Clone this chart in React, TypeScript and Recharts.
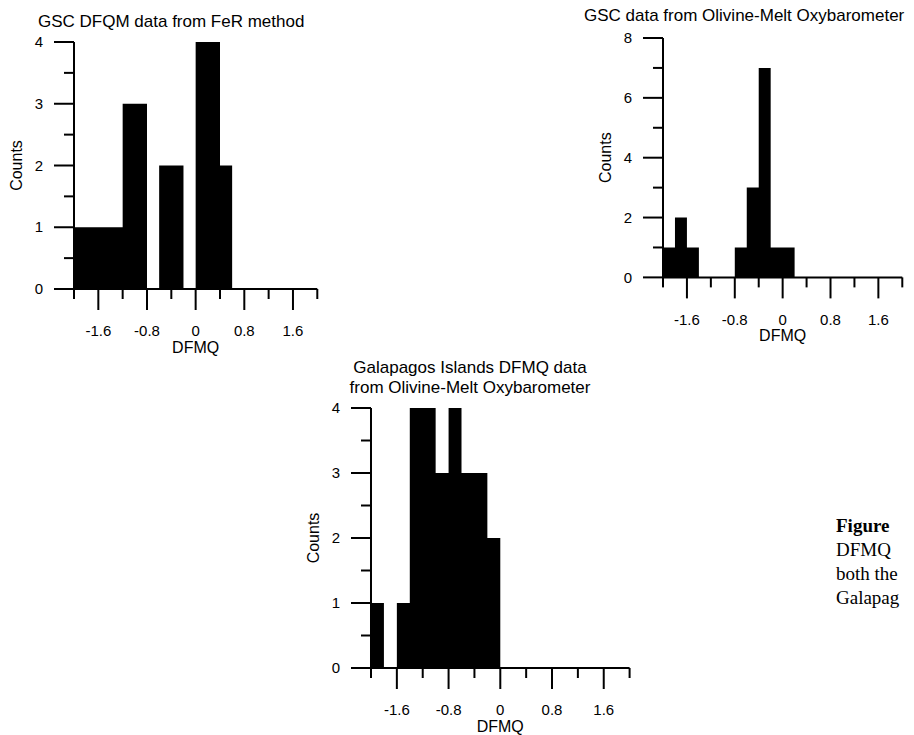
import { AreaChart, Area, XAxis, YAxis, Label } from "recharts";

// bin edges in DFMQ (bin width 0.2), shared by all three histograms
const binEdges = [
  -2.0, -1.8, -1.6, -1.4, -1.2, -1.0, -0.8, -0.6, -0.4, -0.2,
  0.0, 0.2, 0.4, 0.6, 0.8, 1.0, 1.2, 1.4, 1.6, 1.8, 2.0,
];

// counts per bin
const ferCounts = [1, 1, 1, 1, 3, 3, 0, 2, 2, 0, 4, 4, 2, 0, 0, 0, 0, 0, 0, 0];
const olivineCounts = [1, 2, 1, 0, 0, 0, 1, 3, 7, 1, 1, 0, 0, 0, 0, 0, 0, 0, 0, 0];
const galapagosCounts = [1, 0, 1, 4, 4, 3, 4, 3, 3, 2, 0, 0, 0, 0, 0, 0, 0, 0, 0, 0];

const xTicks = [-2.0, -1.6, -1.2, -0.8, -0.4, 0, 0.4, 0.8, 1.2, 1.6, 2.0];
const xLabels = [-1.6, -0.8, 0, 0.8, 1.6];
const yTicksFour = [0, 0.5, 1, 1.5, 2, 2.5, 3, 3.5, 4];
const yLabelsFour = [0, 1, 2, 3, 4];
const yTicksEight = [0, 1, 2, 3, 4, 5, 6, 7, 8];
const yLabelsEight = [0, 2, 4, 6, 8];

const captionLines = ["Figure", "DFMQ", "both the", "Galapag"];

const SANS = '"Liberation Sans", Arial, sans-serif';
const SERIF = '"Liberation Serif", "Times New Roman", serif';
const AXIS_W = 70;
const AXIS_H = 70;
const LINE_W = 2;

// last edge closes the step area back to zero
const toSteps = (counts: number[]) =>
  binEdges.map((x, i) => ({ x, count: i < counts.length ? counts[i] : 0 }));

const XTick = (props: any) => {
  const { x, y, payload } = props;
  const v = payload.value;
  const major = xLabels.includes(v);
  return (
    <g>
      <line x1={x} x2={x} y1={y} y2={y + (major ? 21 : 10)} stroke="#000" strokeWidth={LINE_W} />
      {major && (
        <text x={x} y={y + 42} dy="0.35em" textAnchor="middle" fontSize={15} fontFamily={SANS} fill="#000">
          {v === 0 ? "0" : v.toFixed(1)}
        </text>
      )}
    </g>
  );
};

const makeYTick = (labels: number[]) => (props: any) => {
  const { x, y, payload } = props;
  const major = labels.includes(payload.value);
  return (
    <g>
      <line x1={x - (major ? 20 : 10)} x2={x} y1={y} y2={y} stroke="#000" strokeWidth={LINE_W} />
      {major && (
        <text x={x - 31} y={y} dy="0.35em" textAnchor="end" fontSize={15} fontFamily={SANS} fill="#000">
          {payload.value}
        </text>
      )}
    </g>
  );
};

type HistProps = {
  left: number;
  top: number;
  plotW: number;
  plotH: number;
  counts: number[];
  yMax: number;
  yTicks: number[];
  yLabels: number[];
};

function Histogram({ left, top, plotW, plotH, counts, yMax, yTicks, yLabels }: HistProps) {
  const YTick = makeYTick(yLabels);
  return (
    <div style={{ position: "absolute", left: left - AXIS_W, top: top - 10 }}>
      <AreaChart
        width={AXIS_W + plotW + 10}
        height={10 + plotH + AXIS_H}
        data={toSteps(counts)}
        margin={{ top: 10, right: 10, bottom: 0, left: 0 }}
      >
        <XAxis
          dataKey="x"
          type="number"
          domain={[-2, 2]}
          ticks={xTicks}
          interval={0}
          allowDataOverflow
          height={AXIS_H}
          tickSize={0}
          tickMargin={0}
          tickLine={false}
          tick={<XTick />}
          axisLine={{ stroke: "#000", strokeWidth: LINE_W }}
        >
          <Label value="DFMQ" position="insideBottom" offset={6} fontSize={16} fontFamily={SANS} fill="#000" />
        </XAxis>
        <YAxis
          type="number"
          domain={[0, yMax]}
          ticks={yTicks}
          interval={0}
          allowDataOverflow
          width={AXIS_W}
          tickSize={0}
          tickMargin={0}
          tickLine={false}
          tick={<YTick />}
          axisLine={{ stroke: "#000", strokeWidth: LINE_W }}
        >
          <Label
            value="Counts"
            position="insideLeft"
            angle={-90}
            offset={12}
            fontSize={16}
            fontFamily={SANS}
            fill="#000"
            style={{ textAnchor: "middle" }}
          />
        </YAxis>
        <Area
          type="stepAfter"
          dataKey="count"
          stroke="none"
          fill="#000"
          fillOpacity={1}
          dot={false}
          activeDot={false}
          isAnimationActive={false}
        />
      </AreaChart>
    </div>
  );
}

const titleStyle = {
  position: "absolute" as const,
  fontFamily: SANS,
  fontSize: 17,
  lineHeight: "20px",
  color: "#000",
  whiteSpace: "nowrap" as const,
};

export default function App() {
  return (
    <div
      style={{
        position: "absolute",
        left: 0,
        top: 0,
        width: 914,
        height: 735,
        overflow: "hidden",
        background: "#fff",
      }}
    >
      <div style={{ ...titleStyle, left: 38, top: 12 }}>GSC DFQM data from FeR method</div>
      <Histogram
        left={74}
        top={41.7}
        plotW={243.3}
        plotH={247}
        counts={ferCounts}
        yMax={4}
        yTicks={yTicksFour}
        yLabels={yLabelsFour}
      />

      <div style={{ ...titleStyle, left: 584, top: 6 }}>GSC data from Olivine-Melt Oxybarometer</div>
      <Histogram
        left={662.7}
        top={38.3}
        plotW={239.3}
        plotH={239.4}
        counts={olivineCounts}
        yMax={8}
        yTicks={yTicksEight}
        yLabels={yLabelsEight}
      />

      <div style={{ ...titleStyle, left: 470, top: 358, transform: "translateX(-50%)", textAlign: "center", lineHeight: "19.5px" }}>
        Galapagos Islands DFMQ data
        <br />
        from Olivine-Melt Oxybarometer
      </div>
      <Histogram
        left={370.7}
        top={407.7}
        plotW={258.6}
        plotH={260}
        counts={galapagosCounts}
        yMax={4}
        yTicks={yTicksFour}
        yLabels={yLabelsFour}
      />

      <div style={{ position: "absolute", left: 836, top: 514, fontFamily: SERIF, fontSize: 19, lineHeight: "24px", color: "#000", whiteSpace: "nowrap" }}>
        {captionLines.map((line, i) => (
          <div key={i} style={{ fontWeight: i === 0 ? "bold" : "normal" }}>
            {line}
          </div>
        ))}
      </div>
    </div>
  );
}
